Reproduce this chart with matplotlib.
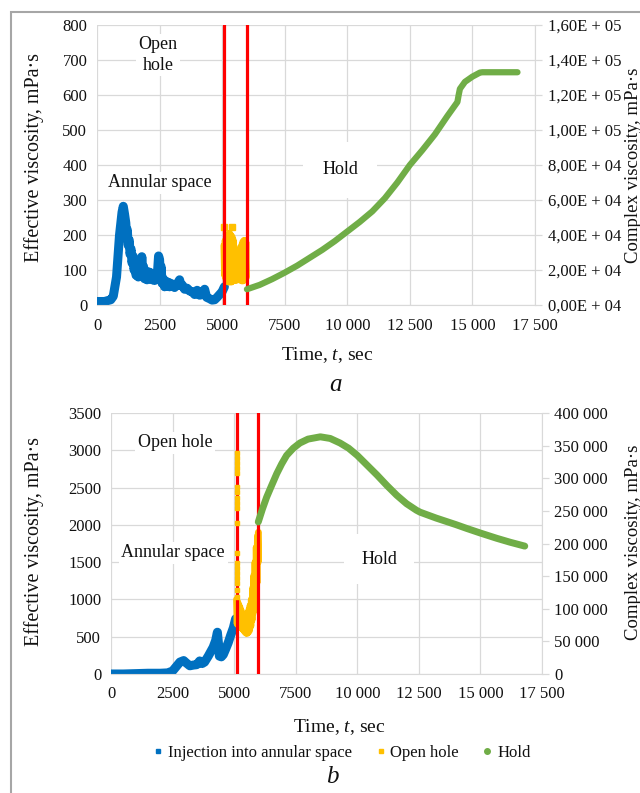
import matplotlib
matplotlib.use('Agg')
import matplotlib.pyplot as plt
from matplotlib.lines import Line2D
from matplotlib.patches import Rectangle

plt.rcParams['font.family'] = ['Liberation Serif', 'DejaVu Serif']
plt.rcParams['mathtext.fontset'] = 'custom'
plt.rcParams['mathtext.it'] = 'Liberation Serif:italic'
plt.rcParams['mathtext.rm'] = 'Liberation Serif'

W, H = 640, 793

# ---------------- shared axis tick data ----------------
x_ticks = [0, 2500, 5000, 7500, 10000, 12500, 15000, 17500]
x_labels = ['0', '2500', '5000', '7500', '10 000', '12 500', '15 000', '17 500']

# ---------------- panel a data ----------------
a_blue_t = [0, 300, 550, 650, 780, 900, 1000, 1050, 1100, 1150, 1180, 1210, 1250, 1290, 1320,
            1360, 1400, 1440, 1480, 1520, 1560, 1600, 1650, 1700, 1760, 1790, 1820, 1860, 1900,
            1950, 2000, 2050, 2100, 2150, 2200, 2250, 2300, 2350, 2400, 2460, 2500, 2530, 2560,
            2600, 2650, 2700, 2750, 2800, 2850, 2900, 2950, 3000, 3100, 3200, 3300, 3350, 3400,
            3500, 3600, 3700, 3800, 3900, 3950, 4000, 4100, 4200, 4300, 4380, 4500, 4600, 4700,
            4800, 4900, 5000, 5090]
a_blue_v = [10, 10, 15, 25, 80, 200, 265, 282, 260, 235, 200, 215, 170, 185, 145,
            160, 120, 140, 100, 115, 85, 100, 80, 95, 90, 138, 95, 110, 75,
            95, 72, 95, 80, 92, 72, 85, 70, 82, 75, 140, 130, 85, 110,
            62, 75, 52, 68, 55, 65, 52, 62, 55, 50, 60, 72, 55, 58,
            45, 48, 40, 38, 30, 36, 42, 28, 30, 45, 22, 18, 14, 15,
            22, 30, 38, 52]

a_open_t = [5060, 5085, 5110, 5135, 5160, 5185, 5210, 5235, 5260, 5285, 5310, 5335, 5360, 5385,
            5410, 5435, 5460, 5485, 5510, 5535, 5560, 5585, 5610, 5635, 5660, 5685, 5710, 5735,
            5760, 5785, 5810, 5835, 5860, 5885, 5910, 5935, 5960, 5985]
a_open_v = [170, 85, 185, 75, 195, 70, 200, 65, 205, 65, 205, 65, 200, 65,
            195, 68, 185, 70, 165, 70, 145, 70, 135, 72, 135, 72, 150, 70,
            170, 68, 180, 68, 185, 70, 185, 72, 180, 80]
a_open_dot_t = [5080, 5400]
a_open_dot_v = [222, 222]

a_hold_t = [5990, 6500, 7000, 7500, 8000, 8500, 9000, 9500, 10000, 10500, 11000, 11500, 12000,
            12500, 13000, 13500, 14000, 14400, 14450, 14500, 14700, 15000, 15300, 15400, 16800]
a_hold_v = [9000, 11500, 14800, 18500, 22500, 27000, 31500, 36500, 42000, 47500, 53500, 61000,
            70000, 80000, 88500, 97500, 108000, 116000, 120000, 123500, 127500, 130500, 132800,
            133000, 133000]

a_red_t = [5070, 5990]
a_left_ticks = [0, 100, 200, 300, 400, 500, 600, 700, 800]
a_right_ticks = [0, 20000, 40000, 60000, 80000, 100000, 120000, 140000, 160000]
a_right_labels = ['0,00E + 04', '2,00E + 04', '4,00E + 04', '6,00E + 04', '8,00E + 04',
                  '1,00E + 05', '1,20E + 05', '1,40E + 05', '1,60E + 05']

# ---------------- panel b data ----------------
b_blue_t = [0, 500, 1000, 1500, 2000, 2300, 2500, 2650, 2800, 2950, 3050, 3200, 3350, 3480,
            3600, 3700, 3800, 3950, 4050, 4150, 4250, 4320, 4360, 4400, 4480, 4560, 4650, 4760,
            4860, 4970, 5060, 5100]
b_blue_v = [0, 0, 5, 10, 10, 15, 40, 100, 160, 180, 150, 110, 120, 125,
            175, 140, 160, 240, 300, 360, 450, 560, 420, 240, 230, 260, 330, 420,
            520, 620, 740, 700]

b_open_t = [5100, 5125, 5150, 5175, 5200, 5225, 5250, 5275, 5300, 5325, 5350, 5375, 5400, 5425,
            5450, 5475, 5500, 5525, 5550, 5575, 5600, 5625, 5650, 5675, 5700, 5725, 5750, 5775,
            5800, 5825, 5850, 5875, 5900, 5925, 5950, 5975, 5985]
b_open_v = [1000, 670, 960, 655, 920, 640, 880, 625, 840, 610, 800, 590, 770, 570,
            740, 550, 730, 545, 780, 560, 860, 585, 920, 640, 1000, 720, 1150, 820,
            1320, 940, 1500, 1050, 1700, 1220, 1850, 1500, 1900]
b_open_dot_t = [5125] * 19
b_open_dot_v = [2960, 2893, 2826, 2759, 2692, 2512, 2445, 2356, 2289, 2222, 2021, 1619,
                1484, 1417, 1350, 1283, 1216, 1126, 1037]

b_hold_t = [5980, 6150, 6320, 6500, 6730, 6930, 7130, 7400, 7670, 8000, 8500, 8900, 9300, 9650,
            10000, 10400, 10800, 11200, 11600, 12000, 12400, 12550, 13200, 14000, 14450, 15000,
            15660, 16200, 16800]
b_hold_v = [233000, 253000, 271000, 287000, 307000, 322000, 335000, 346000, 354000, 360000,
            363500, 361000, 354000, 346000, 335000, 320000, 305000, 289000, 274000, 261000,
            251000, 248000, 239000, 229000, 223000, 216000, 208000, 202000, 196000]

b_red_t = [5100, 5980]
b_left_ticks = [0, 500, 1000, 1500, 2000, 2500, 3000, 3500]
b_right_ticks = [0, 50000, 100000, 150000, 200000, 250000, 300000, 350000, 400000]
b_right_labels = ['0', '50 000', '100 000', '150 000', '200 000', '250 000', '300 000',
                  '350 000', '400 000']

series_names = ['Injection into annular space', 'Open hole', 'Hold']

BLUE = '#0070C0'
YEL = '#FFC000'
GRN = '#70AD47'
RED = '#FF0000'
GRID = '#D9D9D9'
TXT = '#111111'
FS = 12

fig = plt.figure(figsize=(W / 100, H / 100), dpi=100)


def fx(px):
    return px / W


def fy(py):
    return 1 - py / H


def style_axes(ax, axr, ymax_l, lticks, rmax, rticks, rlabels):
    ax.set_xlim(0, 17500)
    ax.set_ylim(0, ymax_l)
    axr.set_ylim(0, rmax)
    ax.set_xticks(x_ticks)
    ax.set_xticklabels(x_labels, fontsize=FS, color=TXT)
    ax.set_yticks(lticks)
    ax.set_yticklabels([str(v) for v in lticks], fontsize=FS, color=TXT)
    axr.set_yticks(rticks)
    axr.set_yticklabels(rlabels, fontsize=FS, color=TXT)
    ax.grid(True, color=GRID, lw=0.9, zorder=0)
    ax.set_axisbelow(True)
    for s in ['top', 'left', 'right']:
        ax.spines[s].set_visible(False)
        axr.spines[s].set_visible(False)
    ax.spines['bottom'].set_color(GRID)
    axr.spines['bottom'].set_visible(False)
    axr.spines['right'].set_visible(True)
    axr.spines['right'].set_color(GRID)
    ax.tick_params(axis='x', length=0, pad=9)
    ax.tick_params(axis='y', length=0, pad=7)
    axr.tick_params(axis='y', length=5, width=0.9, color=GRID, direction='out', pad=4)


line_kw = dict(solid_capstyle='round', solid_joinstyle='round')

# ---------------- panel a ----------------
ax1 = fig.add_axes([fx(97), fy(305), fx(535 - 97), (305 - 25) / H])
ax1r = ax1.twinx()
style_axes(ax1, ax1r, 800, a_left_ticks, 160000, a_right_ticks, a_right_labels)
ax1.plot(a_blue_t, a_blue_v, color=BLUE, lw=6.5, zorder=2, **line_kw)
ax1.plot(a_open_t, a_open_v, color=YEL, lw=4.5, zorder=2, **line_kw)
ax1.plot(a_open_dot_t, a_open_dot_v, 's', color=YEL, ms=4, zorder=2)
for t in a_red_t:
    ax1.axvline(t, color=RED, lw=2.3, zorder=3)
ax1r.plot(a_hold_t, a_hold_v, color=GRN, lw=4.5, zorder=2, **line_kw)

bb = dict(facecolor='white', edgecolor='none', pad=2)
ax1.text(2440, 714, 'Open\nhole', fontsize=13, ha='center', va='center', color=TXT,
         linespacing=1.25, bbox=bb, zorder=4)
ax1.text(2520, 349, 'Annular space', fontsize=13, ha='center', va='center', color=TXT,
         bbox=bb, zorder=4)
ax1.text(9710, 386, 'Hold', fontsize=13, ha='center', va='center', color=TXT,
         bbox=dict(facecolor='white', edgecolor='none', pad=14), zorder=4)

# ---------------- panel b ----------------
ax2 = fig.add_axes([fx(111), fy(674), fx(542 - 111), (674 - 413) / H])
ax2r = ax2.twinx()
style_axes(ax2, ax2r, 3500, b_left_ticks, 400000, b_right_ticks, b_right_labels)
ax2.plot(b_blue_t, b_blue_v, color=BLUE, lw=6.5, zorder=2, **line_kw)
ax2.plot(b_open_t, b_open_v, color=YEL, lw=5, zorder=2, **line_kw)
for t in b_red_t:
    ax2.axvline(t, color=RED, lw=2.3, zorder=3)
ax2.plot(b_open_dot_t, b_open_dot_v, 's', color=YEL, ms=3.5, zorder=4)
ax2r.plot(b_hold_t, b_hold_v, color=GRN, lw=5, zorder=2, **line_kw)

ax2.text(2600, 3098, 'Open hole', fontsize=13, ha='center', va='center', color=TXT,
         bbox=bb, zorder=4)
ax2.text(2520, 1623, 'Annular space', fontsize=13, ha='center', va='center', color=TXT,
         bbox=bb, zorder=4)
ax2.text(10880, 1542, 'Hold', fontsize=13, ha='center', va='center', color=TXT,
         bbox=dict(facecolor='white', edgecolor='none', pad=12), zorder=4)

# ---------------- axis titles ----------------
ylab = 'Effective viscosity, mPa·s'
rlab = 'Complex viscosity, mPa·s'
fig.text(fx(34), fy(158), ylab, rotation=90, fontsize=14.5, ha='center', va='center', color=TXT)
fig.text(fx(34), fy(542), ylab, rotation=90, fontsize=14.5, ha='center', va='center', color=TXT)
fig.text(fx(625), fy(165), rlab, rotation=90, fontsize=13.5, ha='left', va='center', color=TXT)
fig.text(fx(625), fy(542), rlab, rotation=90, fontsize=13.5, ha='left', va='center', color=TXT)
fig.text(fx(327), fy(355), 'Time, $\\it{t}$, sec', fontsize=14, ha='center', va='center', color=TXT)
fig.text(fx(339), fy(727), 'Time, $\\it{t}$, sec', fontsize=14, ha='center', va='center', color=TXT)
fig.text(fx(336), fy(385), 'a', fontsize=18, style='italic', ha='center', va='center', color=TXT)
fig.text(fx(332), fy(777), 'b', fontsize=18, style='italic', ha='center', va='center', color=TXT)

handles = [Line2D([], [], ls='none', marker='s', ms=3.5, color=BLUE),
           Line2D([], [], ls='none', marker='s', ms=3.5, color=YEL),
           Line2D([], [], ls='none', marker='o', ms=4, color=GRN)]
fig.legend(handles, series_names, loc='center', bbox_to_anchor=(fx(342), fy(753)), ncol=3,
           frameon=False, fontsize=12, handlelength=0.6, handletextpad=0.3,
           columnspacing=1.4, labelcolor=TXT)

fig.patches.append(Rectangle((fx(11), -0.1), 1.2, fy(12) + 0.1, transform=fig.transFigure,
                             fill=False, edgecolor='#A6A6A6', lw=1.5))

fig.savefig('out.png', dpi=100)
